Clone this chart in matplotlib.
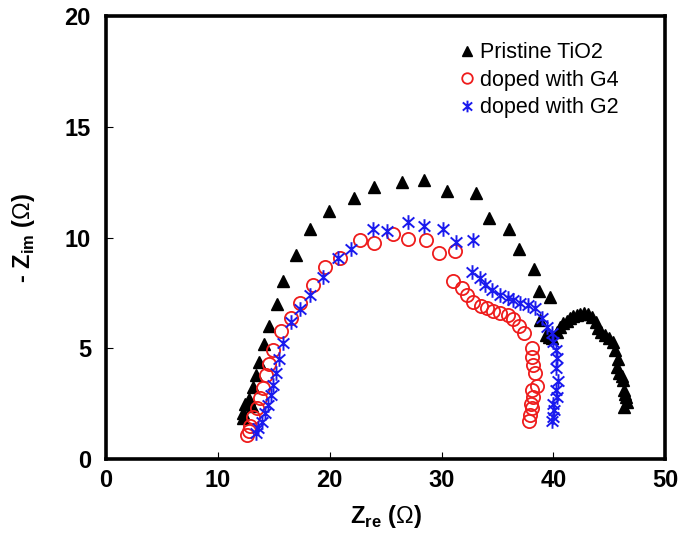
import matplotlib
matplotlib.use("Agg")
import matplotlib.pyplot as plt
from matplotlib.path import Path

# --------------------------------
# DATA
# --------------------------------
pristine_x = [12.2, 12.25, 12.4, 13.0, 12.8, 13.1, 13.4, 13.7, 14.1, 14.6, 15.3, 15.8,
              17.0, 18.2, 19.9, 22.2, 24.0, 26.5, 28.4, 30.5, 33.1, 34.2, 36.0, 36.9,
              38.3, 38.7, 39.7, 38.8, 39.3, 39.9, 40.3, 40.9, 41.5, 42.1, 42.7, 43.5,
              44.0, 44.6, 45.3, 45.5, 45.7, 45.9, 46.2, 46.3, 46.5, 46.6, 46.3,
              39.6, 40.6, 41.2, 41.8, 42.4, 43.1, 43.8, 44.3, 45.0, 45.8, 46.1, 46.4]
pristine_y = [1.85, 2.08, 2.5, 2.4, 2.7, 3.25, 3.8, 4.4, 5.2, 6.0, 7.0, 8.05,
              9.2, 10.4, 11.2, 11.8, 12.3, 12.5, 12.6, 12.1, 12.0, 10.9, 10.4, 9.5,
              8.6, 7.6, 7.3, 6.28, 5.6, 5.46, 5.73, 6.14, 6.37, 6.5, 6.6, 6.4,
              5.9, 5.6, 5.3, 4.9, 4.15, 3.9, 3.57, 3.1, 2.8, 2.57, 2.35,
              5.5, 5.95, 6.25, 6.45, 6.55, 6.55, 6.2, 5.75, 5.45, 4.5, 3.75, 2.95]

g4_x = [12.6, 12.75, 12.9, 13.1, 13.5, 13.8, 14.0, 14.3, 14.6, 14.9, 15.6, 16.5,
        17.3, 18.5, 19.6, 20.9, 22.7, 24.0, 25.7, 27.0, 28.6, 29.8, 31.2, 31.0,
        31.8, 32.3, 32.8, 33.5, 34.1, 34.6, 35.2, 35.9, 36.4, 36.9, 37.4, 38.1,
        38.1, 38.2, 38.4, 38.55, 38.1, 38.2, 38.0, 38.1, 37.9, 37.8]
g4_y = [1.1, 1.25, 1.5, 1.9, 2.3, 2.75, 3.2, 3.8, 4.3, 4.9, 5.8, 6.37,
        7.04, 7.86, 8.67, 9.07, 9.9, 9.75, 10.16, 9.93, 9.9, 9.3, 9.4, 8.04,
        7.7, 7.4, 7.1, 6.9, 6.8, 6.7, 6.6, 6.5, 6.3, 6.0, 5.7, 5.0,
        4.6, 4.24, 3.9, 3.3, 3.1, 2.8, 2.5, 2.3, 2.0, 1.7]

g2_x = [13.4, 13.6, 13.95, 14.2, 14.5, 14.75, 14.9, 15.2, 15.5, 15.8, 16.5, 17.35,
        18.2, 19.4, 20.7, 21.9, 23.9, 25.1, 27.0, 28.4, 30.1, 31.3, 32.8, 32.7,
        33.45, 33.9, 34.5, 35.2, 35.9, 36.4, 37.0, 37.7, 38.4, 39.0, 39.4, 39.9,
        40.0, 40.2, 40.3, 40.2, 40.4, 40.2, 40.3, 40.0, 40.1, 40.0, 39.9]
g2_y = [1.17, 1.4, 1.67, 2.08, 2.44, 2.9, 3.34, 3.9, 4.5, 5.24, 6.2, 6.77,
        7.4, 8.2, 9.07, 9.5, 10.4, 10.3, 10.7, 10.5, 10.4, 9.8, 9.9, 8.44,
        8.17, 7.86, 7.63, 7.4, 7.27, 7.18, 7.04, 6.95, 6.8, 6.37, 5.96, 5.7,
        5.3, 4.9, 4.56, 4.1, 3.5, 3.1, 2.8, 2.5, 2.2, 1.9, 1.7]

labels = ["Pristine TiO2", "doped with G4", "doped with G2"]
x_ticks = [0, 10, 20, 30, 40, 50]
y_ticks = [0, 5, 10, 15, 20]

# --------------------------------
# STYLE
# --------------------------------
plt.rcParams["font.family"] = ["Liberation Sans", "DejaVu Sans"]
plt.rcParams["mathtext.fontset"] = "custom"
plt.rcParams["mathtext.rm"] = "Liberation Sans:bold"
plt.rcParams["mathtext.bf"] = "Liberation Sans:bold"
plt.rcParams["mathtext.sf"] = "Liberation Sans"

# X with a vertical bar, like the reference star marker
star = Path([(0, -1), (0, 1), (-0.8, -0.7), (0.8, 0.7), (-0.8, 0.7), (0.8, -0.7)],
            [Path.MOVETO, Path.LINETO, Path.MOVETO, Path.LINETO, Path.MOVETO, Path.LINETO])

fig = plt.figure(figsize=(6.85, 5.38), dpi=100)
ax = fig.add_axes([0.155, 0.147, 0.816, 0.823])

ax.plot(pristine_x, pristine_y, linestyle="none", marker="^", markersize=9,
        color="black", label=labels[0])
ax.plot(g4_x, g4_y, linestyle="none", marker="o", markersize=9.5,
        markerfacecolor="none", markeredgecolor="#ee1c1c", markeredgewidth=1.3,
        label=labels[1])
ax.plot(g2_x, g2_y, linestyle="none", marker=star, markersize=10.5,
        color="#1a1aee", markeredgewidth=1.4, label=labels[2])

ax.set_xlim(0, 50)
ax.set_ylim(0, 20)
ax.set_xticks(x_ticks)
ax.set_yticks(y_ticks)

for s in ax.spines.values():
    s.set_linewidth(2.6)

ax.tick_params(direction="in", length=5, width=0.8, labelsize=17)
ax.tick_params(axis="x", pad=7)
ax.tick_params(axis="y", pad=11)
for lbl in ax.get_xticklabels() + ax.get_yticklabels():
    lbl.set_fontweight("bold")

ax.set_xlabel(r"Z$_{\rm re}$ ($\mathsf{\Omega}$)", fontsize=17, fontweight="bold", labelpad=8)
ax.set_ylabel(r"- Z$_{\rm im}$ ($\mathsf{\Omega}$)", fontsize=17, fontweight="bold", labelpad=20)

ax.legend(loc="upper left", bbox_to_anchor=(0.60, 0.985), frameon=False,
          fontsize=15.5, handlelength=0.6, handletextpad=0.3, labelspacing=0.3,
          markerscale=0.8)

fig.savefig("out.png", dpi=100)
